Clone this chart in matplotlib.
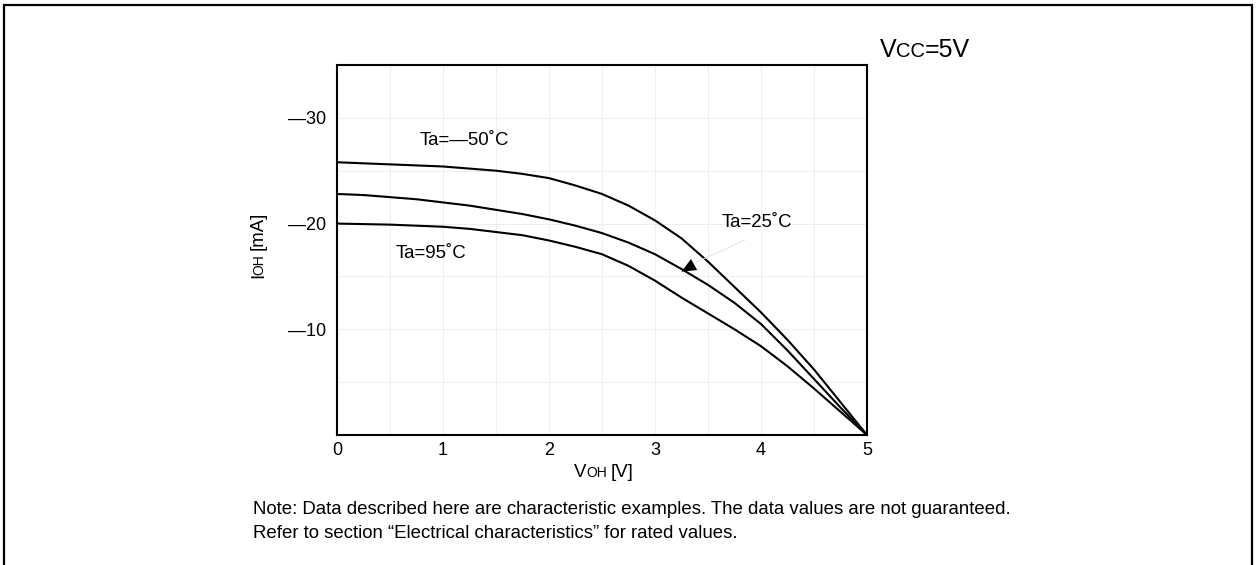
import numpy as np
import matplotlib
matplotlib.use("Agg")
import matplotlib.pyplot as plt
from matplotlib.patches import Rectangle
from matplotlib.transforms import IdentityTransform

# V_OH [V] and I_OH [mA] (magnitude)
voh = [0, 0.25, 0.5, 0.75, 1, 1.25, 1.5, 1.75, 2, 2.25, 2.5,
       2.75, 3, 3.25, 3.5, 3.75, 4, 4.25, 4.5, 4.75, 5]
ioh_m50 = [25.8, 25.7, 25.6, 25.5, 25.4, 25.2, 25.0, 24.7, 24.3, 23.6, 22.8,
           21.7, 20.3, 18.6, 16.4, 14.0, 11.6, 9.0, 6.2, 3.1, 0]
ioh_25 = [22.8, 22.7, 22.5, 22.3, 22.0, 21.7, 21.3, 20.9, 20.4, 19.8, 19.1,
          18.2, 17.1, 15.7, 14.2, 12.5, 10.5, 8.0, 5.3, 2.6, 0]
ioh_95 = [20.0, 19.95, 19.9, 19.8, 19.7, 19.5, 19.2, 18.9, 18.4, 17.8, 17.1,
          16.0, 14.6, 13.0, 11.5, 10.0, 8.4, 6.5, 4.4, 2.2, 0]

xticks = [0, 1, 2, 3, 4, 5]
yticks = [10, 20, 30]
ytick_labels = ["—10", "—20", "—30"]

plt.rcParams.update({
    "font.family": ["Liberation Sans", "DejaVu Sans"],
    "font.size": 13,
})

W, H = 1257, 565
fig = plt.figure(figsize=(W / 100, H / 100), dpi=100)
fig.patch.set_facecolor("white")

# axes placed by pixel box of the reference
x0, x1, y0, y1 = 337, 867, 65, 435
ax = fig.add_axes([x0 / W, 1 - y1 / H, (x1 - x0) / W, (y1 - y0) / H])

ax.set_xlim(0, 5)
ax.set_ylim(0, 35)
ax.set_xticks(xticks)
ax.set_xticklabels([str(t) for t in xticks])
ax.set_yticks(yticks)
ax.set_yticklabels(ytick_labels)
ax.set_xticks(np.arange(0, 5.01, 0.5), minor=True)
ax.set_yticks(np.arange(0, 35.01, 5), minor=True)
ax.tick_params(which="both", length=0)
ax.tick_params(axis="x", pad=5, labelsize=13)
ax.tick_params(axis="y", pad=8, labelsize=13)
ax.grid(which="both", color="#eeeeee", linewidth=0.7)
ax.set_axisbelow(True)

for sp in ax.spines.values():
    sp.set_linewidth(1.5)
    sp.set_color("black")

for vals in (ioh_m50, ioh_25, ioh_95):
    ax.plot(voh, vals, color="black", linewidth=1.5,
            solid_joinstyle="round", solid_capstyle="round")

ax.text(0.78, 27.9, "Ta=—50˚C", ha="left", va="center", fontsize=13.4)
ax.text(0.55, 17.2, "Ta=95˚C", ha="left", va="center", fontsize=13.4)
ax.text(3.63, 20.1, "Ta=25˚C", ha="left", va="center", fontsize=13.4)

# faint leader line with a black head pointing at the 25 C curve
ax.plot([3.38, 3.85], [16.3, 18.45], color="#e4e4e4", linewidth=0.7)
ax.annotate("", xy=(3.25, 15.45), xytext=(3.40, 16.3),
            arrowprops=dict(arrowstyle="-|>,head_length=0.8,head_width=0.35",
                            color="black", lw=0.01, shrinkA=0, shrinkB=0))

fig.canvas.draw()
renderer = fig.canvas.get_renderer()


def rich_text(px, py, pieces, rotation=0, align="center"):
    # pieces of (text, size, gap before); px, py in image pixels (baseline)
    widths = []
    for s, size, _ in pieces:
        t = fig.text(0, 0, s, fontsize=size)
        widths.append(t.get_window_extent(renderer).width)
        t.remove()
    total = sum(widths) + sum(g for _, _, g in pieces[1:])
    pos = -total / 2 if align == "center" else 0
    for i, ((s, size, g), w) in enumerate(zip(pieces, widths)):
        if i > 0:
            pos += g
        if rotation == 90:
            fig.text(px, H - py + pos, s, fontsize=size, rotation=90,
                     rotation_mode="anchor", ha="left", va="baseline",
                     transform=IdentityTransform())
        else:
            fig.text(px + pos, H - py, s, fontsize=size, ha="left",
                     va="baseline", transform=IdentityTransform())
        pos += w


rich_text(604, 477, [("V", 13.4, 0), ("OH", 10, -0.5), ("[V]", 13.4, 4)])
rich_text(263, 245, [("I", 13.4, 0), ("OH", 10, -1.5), ("[mA]", 13.4, 4)], rotation=90)
rich_text(880, 57, [("V", 18, 0), ("CC", 14.5, -0.5), ("=5V", 18, 0)], align="left")

fig.text(253 / W, 1 - 509 / H, "Note: Data described here are characteristic examples. "
         "The data values are not guaranteed.", fontsize=13.4, va="center", ha="left")
fig.text(253 / W, 1 - 533 / H, "Refer to section “Electrical characteristics” for rated values.",
         fontsize=13.4, va="center", ha="left")

# outer frame
fig.patches.append(Rectangle((4 / W, -0.05), (1252 - 4) / W, 1.05 - 5 / H,
                             transform=fig.transFigure, fill=False,
                             edgecolor="black", linewidth=1.6, clip_on=False))

fig.savefig("out.png", dpi=100, facecolor="white")
